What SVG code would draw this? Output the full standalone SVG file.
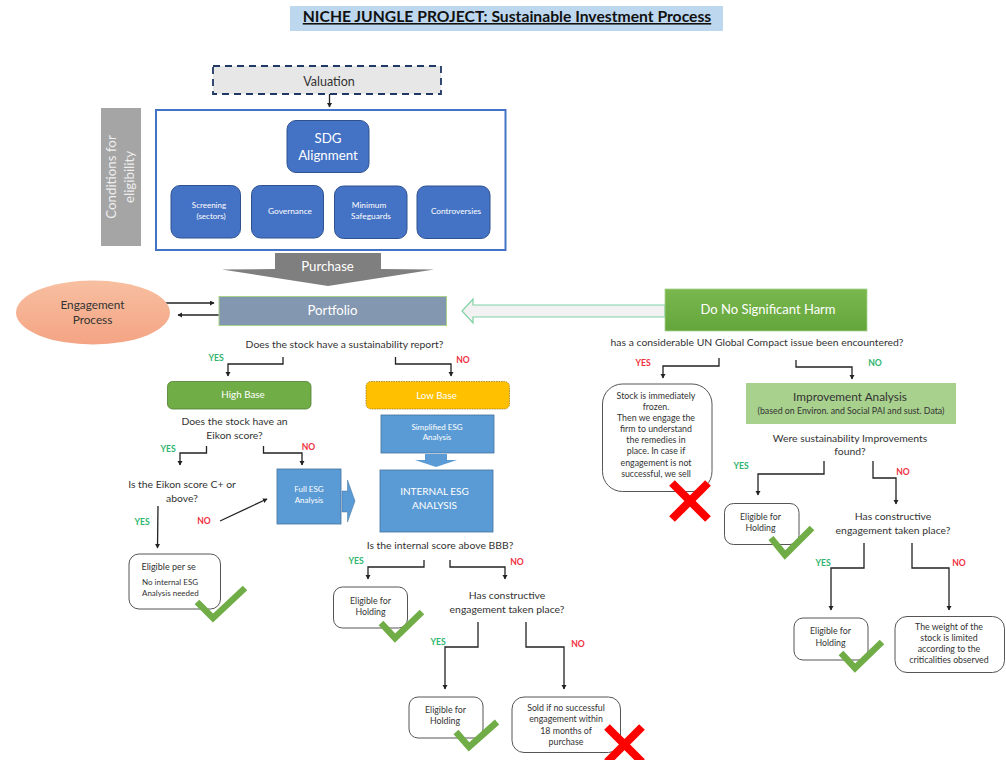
<svg xmlns="http://www.w3.org/2000/svg" width="1006" height="760" viewBox="0 0 1006 760">
<style>
text{font-family:Lato,"Open Sans","Liberation Sans",sans-serif;text-anchor:middle;fill:#333}
.q{font-size:10.4px}
.s{font-size:8.8px}
.w{fill:#fff}
.blue{fill:#4472c4;stroke:#2f528f;stroke-width:1}
.lb{fill:#5b9bd5;stroke:#41719c;stroke-width:.8}
.box{fill:#fff;stroke:#555;stroke-width:1}
.y{font-size:8.6px;font-weight:700;fill:#2fb56e}
.n{font-size:8.6px;font-weight:700;fill:#f03040}
.c{fill:none;stroke:#222;stroke-width:1.3;marker-end:url(#a)}
.ok{fill:none;stroke:#70ad47;stroke-width:6.5}
.x{fill:none;stroke:#f00;stroke-width:8}
</style>
<defs>
<marker id="a" markerWidth="6" markerHeight="6" refX="4" refY="2.5" orient="auto" markerUnits="userSpaceOnUse"><path d="M0 0L4.500 2.500L0 5Z" fill="#222"/></marker>
<linearGradient id="g1" x1="0" y1="0" x2="0" y2="1"><stop offset="0" stop-color="#f7bfa0"/><stop offset="1" stop-color="#f4a484"/></linearGradient>
<linearGradient id="g2" x1="0" y1="0" x2="0" y2="1"><stop offset="0" stop-color="#7ab84e"/><stop offset="1" stop-color="#63a53c"/></linearGradient>
</defs>

<g id="title"><rect x="290" y="6" width="433" height="25" fill="#bdd7ee"/><text x="507" y="22" font-size="15.700" font-weight="700" text-decoration="underline" style="fill:#111">NICHE JUNGLE PROJECT: Sustainable Investment Process</text></g>

<g id="connectors">
<path class="c" d="M329.500 94V107"/>
<path class="c" d="M164 303H214"/>
<path class="c" d="M221 315H178"/>
<path class="c" d="M283 357V364H228V376"/>
<path class="c" d="M395.500 357V364H451V376"/>
<path class="c" d="M206.500 446V453H180V465"/>
<path class="c" d="M263.500 446V453H302V465"/>
<path class="c" d="M158 506L157.500 548"/>
<path class="c" d="M220 521L267 499"/>
<path class="c" d="M424 560V567H368V579"/>
<path class="c" d="M450 560V567H505V579"/>
<path class="c" d="M478 622V647H445V689"/>
<path class="c" d="M526 622V647H564V689"/>
<path class="c" d="M719 358V366H663V378"/>
<path class="c" d="M796 360V367H852V379"/>
<path class="c" d="M824 461V474H758V495"/>
<path class="c" d="M873 461V478H896V504"/>
<path class="c" d="M864 543V568H831V610"/>
<path class="c" d="M912 543V568H949V610"/>
</g>

<g id="valuation"><rect x="213" y="66" width="228" height="28" fill="#e7e7e7" stroke="#1f3864" stroke-width="1.800" stroke-dasharray="7 5"/><text x="329" y="85.500" font-size="12.500">Valuation</text></g>
<g id="conditions"><rect x="101" y="108" width="40" height="138" fill="#a5a5a5"/><text transform="translate(116,177) rotate(-90)" font-size="13.300" style="fill:#eee">Conditions for</text><text transform="translate(134,177) rotate(-90)" font-size="13.300" style="fill:#eee">eligibility</text></g>
<g id="frame"><rect x="156" y="110" width="349.500" height="140" fill="#fff" stroke="#4472c4" stroke-width="2"/></g>
<g id="sdg"><rect class="blue" x="287" y="120.500" width="82" height="52" rx="9"/><text class="w" x="328" y="143" font-size="13.300">SDG</text><text class="w" x="328" y="160" font-size="13.300">Alignment</text></g>
<g id="screening"><rect class="blue" x="171" y="185.500" width="69.500" height="52.500" rx="9"/><text class="w" x="209" y="208" font-size="8">Screening</text><text class="w" x="211" y="219" font-size="8">(sectors)</text></g>
<g id="governance"><rect class="blue" x="251.500" y="185.500" width="72" height="52.500" rx="9"/><text class="w" x="290" y="214" font-size="8.300">Governance</text></g>
<g id="safeguards"><rect class="blue" x="334.500" y="186" width="72.500" height="52.500" rx="9"/><text class="w" x="369" y="208" font-size="8.300">Minimum</text><text class="w" x="371" y="219" font-size="8.300">Safeguards</text></g>
<g id="controversies"><rect class="blue" x="417" y="186" width="73" height="52.500" rx="9"/><text class="w" x="456" y="213.500" font-size="8.300">Controversies</text></g>
<g id="purchase"><path d="M275 253H381V269L434 269.500L328 286L222 269.500L275 269Z" fill="#7f7f7f"/><text class="w" x="327.500" y="271" font-size="13.200">Purchase</text></g>
<g id="engagement"><ellipse cx="93" cy="312.500" rx="77" ry="32" fill="url(#g1)"/><text x="92.500" y="309" font-size="11.800">Engagement</text><text x="92.500" y="324" font-size="11.800">Process</text></g>
<g id="portfolio"><rect x="219" y="296.500" width="227.500" height="29" fill="#8497b0" stroke="#a9d18e" stroke-width="1"/><text class="w" x="332.500" y="315" font-size="13.200">Portfolio</text></g>
<g id="hollow-arrow"><path d="M665 305H473V299L462 311L473 323V317H665Z" fill="#f2f2f2" stroke="#7fd1a4" stroke-width="1.200"/></g>
<g id="dnsh"><rect x="665" y="289" width="202" height="42" fill="url(#g2)" stroke="#a9d18e" stroke-width=".8"/><text class="w" x="768" y="314" font-size="13">Do No Significant Harm</text></g>

<g id="q-report"><text class="q" x="344.500" y="348">Does the stock have a sustainability report?</text></g>
<g id="labels-left">
<text class="y" x="216" y="361">YES</text><text class="n" x="463" y="363">NO</text>
<text class="y" x="168" y="452">YES</text><text class="n" x="308.500" y="450">NO</text>
<text class="y" x="142" y="525">YES</text><text class="n" x="204" y="524">NO</text>
<text class="y" x="356" y="564">YES</text><text class="n" x="517" y="565">NO</text>
<text class="y" x="438" y="645">YES</text><text class="n" x="578" y="647">NO</text>
</g>
<g id="high-base"><rect x="167.500" y="381.500" width="143.500" height="27.500" rx="5" fill="#70ad47" stroke="#507e32" stroke-width=".8"/><text class="w" x="243" y="398" font-size="9.800">High Base</text></g>
<g id="low-base"><rect x="366" y="381.500" width="143.500" height="27.500" rx="5" fill="#ffc000" stroke="#9a7a10" stroke-width=".8" stroke-dasharray="1.500 1"/><text class="w" x="436.500" y="398.500" font-size="9.800">Low Base</text></g>
<g id="simplified"><rect class="lb" x="381" y="415" width="113" height="38"/><text class="w" x="437" y="430" font-size="8">Simplified ESG</text><text class="w" x="437" y="440" font-size="8">Analysis</text></g>
<g id="down-arrow"><path d="M425 454H447V460H457L436 467L415 460H425Z" fill="#5b9bd5"/></g>
<g id="internal"><rect class="lb" x="380" y="470" width="113" height="62"/><text class="w" x="434.500" y="495" font-size="10">INTERNAL ESG</text><text class="w" x="434.500" y="509" font-size="10">ANALYSIS</text></g>
<g id="full-esg"><rect class="lb" x="277" y="469" width="64" height="55"/><text class="w" x="309" y="492" font-size="8">Full ESG</text><text class="w" x="309" y="503" font-size="8">Analysis</text></g>
<g id="right-arrow"><path d="M342 491H347.500V480L355 501L347.500 522V512H342Z" fill="#5b9bd5" stroke="#41719c" stroke-width=".5"/></g>
<g id="q-eikon"><text class="q" x="234.500" y="425">Does the stock have an</text><text class="q" x="234.500" y="438.500">Eikon score?</text></g>
<g id="q-c"><text class="q" x="182" y="488">Is the Eikon score C+ or</text><text class="q" x="182" y="502">above?</text></g>
<g id="per-se"><rect class="box" x="129" y="554" width="91.500" height="55" rx="10"/><text class="s" x="141.500" y="570" style="text-anchor:start;font-size:9px">Eligible per se</text><text class="s" x="142" y="585" style="text-anchor:start;font-size:8px">No internal ESG</text><text class="s" x="142" y="596" style="text-anchor:start;font-size:8px">Analysis needed</text><path class="ok" d="M197 602L213 618L245 588"/></g>
<g id="q-internal"><text class="q" x="440" y="549">Is the internal score above BBB?</text></g>
<g id="hold1"><rect class="box" x="333.500" y="587" width="74" height="41" rx="9"/><text class="s" x="370.500" y="604">Eligible for</text><text class="s" x="370.500" y="615">Holding</text><path class="ok" d="M381 623L395 638L422 612"/></g>
<g id="q-eng1"><text class="q" x="507" y="599">Has constructive</text><text class="q" x="507" y="612.500">engagement taken place?</text></g>
<g id="hold2"><rect class="box" x="409" y="697" width="74" height="41" rx="9"/><text class="s" x="445.500" y="713">Eligible for</text><text class="s" x="445" y="724">Holding</text><path class="ok" d="M456 732L469 747L497 722"/></g>
<g id="sold"><rect class="box" x="512" y="697" width="108.500" height="55.500" rx="12"/><text class="s" x="566" y="711">Sold if no successful</text><text class="s" x="566" y="722">engagement within</text><text class="s" x="566" y="733.500">18 months of</text><text class="s" x="566" y="744.500">purchase</text><path class="x" d="M607 727L642 762M642 727L607 762"/></g>

<g id="q-un"><text class="q" x="757" y="346">has a considerable UN Global Compact issue been encountered?</text></g>
<g id="labels-right">
<text class="n" x="643" y="366">YES</text><text class="y" x="875" y="366">NO</text>
<text class="y" x="741" y="469">YES</text><text class="n" x="903" y="474.500">NO</text>
<text class="y" x="823" y="566">YES</text><text class="n" x="959" y="566">NO</text>
</g>
<g id="frozen"><rect class="box" x="602.500" y="384" width="109.500" height="107.500" rx="20"/>
<text class="s" x="656" y="398.500">Stock is immediately</text><text class="s" x="656" y="410">frozen.</text><text class="s" x="656" y="421">Then we engage the</text><text class="s" x="656" y="432">firm to understand</text><text class="s" x="656" y="443">the remedies in</text><text class="s" x="656" y="454">place. In case if</text><text class="s" x="656" y="465.500">engagement is not</text><text class="s" x="656" y="476.500">successful, we sell</text><path class="x" d="M672 483L708 519M708 483L672 519"/></g>
<g id="improvement"><rect x="746" y="383" width="210" height="41" fill="#a9d18e"/><text x="850" y="401" font-size="11.800">Improvement Analysis</text><text x="851" y="414" font-size="8.800">(based on Environ. and Social PAI and sust. Data)</text></g>
<g id="q-improve"><text class="q" x="850" y="441.500">Were sustainability Improvements</text><text class="q" x="850" y="455">found?</text></g>
<g id="hold3"><rect class="box" x="724.500" y="503.500" width="74.500" height="41" rx="9"/><text class="s" x="760.500" y="519.500">Eligible for</text><text class="s" x="760.500" y="531">Holding</text><path class="ok" d="M771 538L785 555L812 528"/></g>
<g id="q-eng2"><text class="q" x="893" y="520">Has constructive</text><text class="q" x="893" y="534">engagement taken place?</text></g>
<g id="hold4"><rect class="box" x="794" y="618" width="74" height="42" rx="9"/><text class="s" x="830.500" y="634">Eligible for</text><text class="s" x="830.500" y="645.500">Holding</text><path class="ok" d="M841 653L855 668L882 642"/></g>
<g id="weight"><rect class="box" x="895" y="616.500" width="109.500" height="56" rx="12"/><text class="s" x="949" y="630">The weight of the</text><text class="s" x="949" y="641">stock is limited</text><text class="s" x="949" y="652">according to the</text><text class="s" x="949" y="663">criticalities observed</text></g>
</svg>
